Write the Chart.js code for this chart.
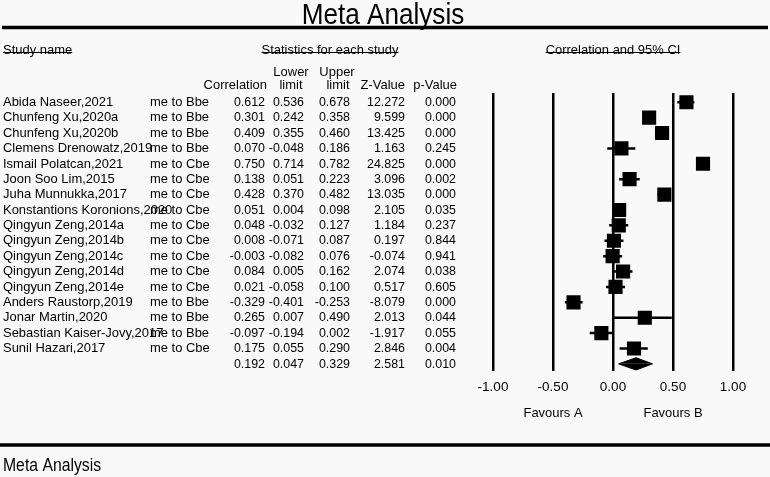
<!DOCTYPE html>
<html>
<head>
<meta charset="utf-8">
<script src="https://cdn.jsdelivr.net/npm/chart.js@4.4.1/dist/chart.umd.min.js"></script>
<style>
  html, body { margin: 0; padding: 0; background: #f9f9f9; }
  #forest { display: block; }
</style>
</head>
<body>
<canvas id="forest" width="770" height="477"></canvas>
<script>
var studyNames = ['Abida Naseer,2021', 'Chunfeng Xu,2020a', 'Chunfeng Xu,2020b', 'Clemens Drenowatz,2019',
	'Ismail Polatcan,2021', 'Joon Soo Lim,2015', 'Juha Munnukka,2017', 'Konstantions Koronions,2020',
	'Qingyun Zeng,2014a', 'Qingyun Zeng,2014b', 'Qingyun Zeng,2014c', 'Qingyun Zeng,2014d', 'Qingyun Zeng,2014e',
	'Anders Raustorp,2019', 'Jonar Martin,2020', 'Sebastian Kaiser-Jovy,2017', 'Sunil Hazari,2017'];
var outcomes = ['me to Bbe', 'me to Bbe', 'me to Bbe', 'me to Bbe',
	'me to Cbe', 'me to Cbe', 'me to Cbe', 'me to Cbe',
	'me to Cbe', 'me to Cbe', 'me to Cbe', 'me to Cbe', 'me to Cbe',
	'me to Bbe', 'me to Bbe', 'me to Bbe', 'me to Cbe'];
var correlation = [0.612, 0.301, 0.409, 0.070, 0.750, 0.138, 0.428, 0.051, 0.048, 0.008, -0.003, 0.084, 0.021, -0.329, 0.265, -0.097, 0.175];
var lowerLimit = [0.536, 0.242, 0.355, -0.048, 0.714, 0.051, 0.370, 0.004, -0.032, -0.071, -0.082, 0.005, -0.058, -0.401, 0.007, -0.194, 0.055];
var upperLimit = [0.678, 0.358, 0.460, 0.186, 0.782, 0.223, 0.482, 0.098, 0.127, 0.087, 0.076, 0.162, 0.100, -0.253, 0.490, 0.002, 0.290];
var zValue = [12.272, 9.599, 13.425, 1.163, 24.825, 3.096, 13.035, 2.105, 1.184, 0.197, -0.074, 2.074, 0.517, -8.079, 2.013, -1.917, 2.846];
var pValue = [0.000, 0.000, 0.000, 0.245, 0.000, 0.002, 0.000, 0.035, 0.237, 0.844, 0.941, 0.038, 0.605, 0.000, 0.044, 0.055, 0.004];

// pooled (summary) row
var summary = {corr: 0.192, lower: 0.047, upper: 0.329, z: 2.581, p: 0.010};

var xTicks = [-1, -0.5, 0, 0.5, 1];

var FONT = '"Liberation Sans", Arial, Helvetica, sans-serif';
Chart.defaults.font.family = FONT;
Chart.defaults.color = '#000';

var summaryRow = studyNames.length;

// squares
let squareData = [];
for (let i = 0; i < studyNames.length; i++) {
	squareData.push({x: correlation[i], y: i});
}

// whiskers, one segment per study, split by null points
let whiskerData = [];
for (let i = 0; i < studyNames.length; i++) {
	whiskerData.push({x: lowerLimit[i], y: i});
	whiskerData.push({x: upperLimit[i], y: i});
	whiskerData.push({x: upperLimit[i], y: null});
}

// summary diamond as two filled halves
let halfH = 0.4;
let diamondTop = [
	{x: summary.lower, y: summaryRow},
	{x: summary.corr, y: summaryRow - halfH},
	{x: summary.upper, y: summaryRow}
];
let diamondBottom = [
	{x: summary.lower, y: summaryRow},
	{x: summary.corr, y: summaryRow + halfH},
	{x: summary.upper, y: summaryRow}
];

function fmt(v) {
	return v.toFixed(3);
}

// the original uses a slightly narrow helvetica, squeeze the text a bit
function text(ctx, str, x, y, align, size, squeeze) {
	let sq = squeeze || 0.96;
	ctx.save();
	ctx.font = size + 'px ' + FONT;
	ctx.textAlign = align;
	ctx.translate(x, y);
	ctx.scale(sq, 1);
	ctx.fillText(str, 0, 0);
	let w = ctx.measureText(str).width * sq;
	ctx.restore();
	return w;
}

const tablePlugin = {
	id: 'tableText',
	afterDraw(chart) {
		let ctx = chart.ctx;
		let yScale = chart.scales.y;
		let xScale = chart.scales.x;
		let fs = 13.5;
		ctx.save();
		ctx.fillStyle = '#000';
		ctx.strokeStyle = '#000';

		// title and rules
		ctx.textBaseline = 'alphabetic';
		text(ctx, 'Meta Analysis', 383, 24, 'center', 29, 0.9);

		ctx.lineWidth = 3.5;
		ctx.beginPath();
		ctx.moveTo(2, 27.5);
		ctx.lineTo(768, 27.5);
		ctx.stroke();

		ctx.beginPath();
		ctx.moveTo(0, 445);
		ctx.lineTo(770, 445);
		ctx.stroke();

		ctx.textBaseline = 'middle';
		text(ctx, 'Meta Analysis', 3, 466, 'left', 17.5, 0.9);

		// section headers (with the line through them)
		let heads = [['Study name', 3, 'left'], ['Statistics for each study', 330, 'center'],
			['Correlation and 95% CI', xScale.getPixelForValue(0), 'center']];
		ctx.lineWidth = 1;
		heads.forEach(function(h) {
			let w = text(ctx, h[0], h[1], 50, h[2], fs);
			let x0 = h[2] === 'left' ? h[1] : h[1] - w / 2;
			ctx.beginPath();
			ctx.moveTo(x0, 52.5);
			ctx.lineTo(x0 + w, 52.5);
			ctx.stroke();
		});

		// column headers
		text(ctx, 'Correlation', 267, 85, 'right', fs);
		text(ctx, 'Z-Value', 405, 85, 'right', fs);
		text(ctx, 'p-Value', 457, 85, 'right', fs);
		text(ctx, 'Lower', 291, 72, 'center', fs);
		text(ctx, 'limit', 291, 85, 'center', fs);
		text(ctx, 'Upper', 337, 72, 'center', fs);
		text(ctx, 'limit', 338, 85, 'center', fs);

		// rows
		let cols = [265, 304, 350, 405, 456];
		let numSq = 0.92;
		for (let i = 0; i < studyNames.length; i++) {
			let y = yScale.getPixelForValue(i);
			text(ctx, studyNames[i], 3, y, 'left', fs);
			text(ctx, outcomes[i], 150, y, 'left', fs);
			let vals = [correlation[i], lowerLimit[i], upperLimit[i], zValue[i], pValue[i]];
			for (let c = 0; c < vals.length; c++) {
				text(ctx, fmt(vals[c]), cols[c], y, 'right', fs, numSq);
			}
		}
		let ys = yScale.getPixelForValue(summaryRow);
		let svals = [summary.corr, summary.lower, summary.upper, summary.z, summary.p];
		for (let c = 0; c < svals.length; c++) {
			text(ctx, fmt(svals[c]), cols[c], ys, 'right', fs, numSq);
		}

		// favours labels
		text(ctx, 'Favours A', xScale.getPixelForValue(-0.5), 413, 'center', fs);
		text(ctx, 'Favours B', xScale.getPixelForValue(0.5), 413, 'center', fs);
		ctx.restore();
	}
};

const config = {
	type: 'scatter',
	data: {
		datasets: [
			{
				label: 'Correlation',
				data: squareData,
				pointStyle: 'rect',
				pointRadius: 10,
				backgroundColor: '#000',
				borderWidth: 0,
				order: 0
			},
			{
				type: 'line',
				label: '95% CI',
				data: whiskerData,
				borderColor: '#000',
				borderWidth: 2.5,
				pointRadius: 0,
				spanGaps: false,
				fill: false,
				order: 1
			},
			{
				type: 'line',
				label: 'Summary',
				data: diamondTop,
				borderColor: '#000',
				backgroundColor: '#000',
				borderWidth: 1,
				pointRadius: 0,
				tension: 0,
				fill: {value: summaryRow},
				order: 0
			},
			{
				type: 'line',
				label: 'Summary low',
				data: diamondBottom,
				borderColor: '#000',
				backgroundColor: '#000',
				borderWidth: 1,
				pointRadius: 0,
				tension: 0,
				fill: {value: summaryRow},
				order: 0
			}
		]
	},
	options: {
		responsive: false,
		animation: false,
		events: [],
		devicePixelRatio: 1,
		layout: {
			padding: {left: 493, right: 37, top: 93, bottom: 74}
		},
		scales: {
			x: {
				type: 'linear',
				min: -1,
				max: 1,
				afterBuildTicks: function(axis) {
					axis.ticks = xTicks.map(v => ({value: v}));
				},
				ticks: {
					callback: v => v.toFixed(2),
					font: {size: 13.5},
					color: '#000',
					padding: 8,
					maxRotation: 0,
					autoSkip: false
				},
				grid: {
					color: '#000',
					lineWidth: 2.5,
					drawTicks: false
				},
				border: {display: false}
			},
			y: {
				type: 'linear',
				reverse: true,
				min: -0.6,
				max: 17.45,
				display: false
			}
		},
		plugins: {
			legend: {display: false},
			tooltip: {enabled: false},
			title: {display: false}
		}
	},
	plugins: [tablePlugin]
};

new Chart(document.getElementById('forest'), config);
</script>
</body>
</html>
